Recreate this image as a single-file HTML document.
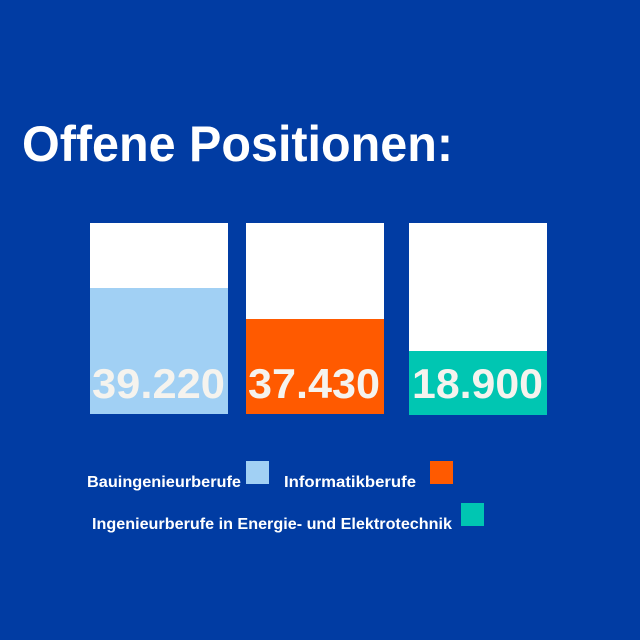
<!DOCTYPE html>
<html><head><meta charset="utf-8"><style>
html,body{margin:0;padding:0;background:#013ca3;}
svg{display:block}
text{font-family:"Liberation Sans",sans-serif;font-weight:bold;}
</style></head><body>
<svg width="640" height="640" viewBox="0 0 640 640">
<rect width="640" height="640" fill="#013ca3"/>
<text x="22" y="161" font-size="50" fill="#fff" textLength="431" lengthAdjust="spacingAndGlyphs">Offene Positionen:</text>
<rect x="90" y="223" width="138" height="191" fill="#fff"/>
<rect x="90" y="288" width="138" height="126" fill="#a1d0f4"/>
<rect x="246" y="223" width="138" height="191" fill="#fff"/>
<rect x="246" y="319" width="138" height="95" fill="#ff5a00"/>
<rect x="409" y="223" width="138" height="192" fill="#fff"/>
<rect x="409" y="351" width="138" height="64" fill="#00c6b2"/>
<g fill="#f5f3ee" font-size="42">
<text x="92" y="398" textLength="133" lengthAdjust="spacingAndGlyphs">39.220</text>
<text x="248" y="398" textLength="132" lengthAdjust="spacingAndGlyphs">37.430</text>
<text x="412" y="398" textLength="131" lengthAdjust="spacingAndGlyphs">18.900</text>
</g>
<g fill="#fff" font-size="16">
<text x="87" y="487" textLength="154" lengthAdjust="spacingAndGlyphs">Bauingenieurberufe</text>
<text x="284" y="487" textLength="132" lengthAdjust="spacingAndGlyphs">Informatikberufe</text>
<text x="92" y="529" textLength="360" lengthAdjust="spacingAndGlyphs">Ingenieurberufe in Energie- und Elektrotechnik</text>
</g>
<rect x="246" y="461" width="23" height="23" fill="#a1d0f4"/>
<rect x="430" y="461" width="23" height="23" fill="#ff5a00"/>
<rect x="461" y="503" width="23" height="23" fill="#00c6b2"/>
</svg>
</body></html>
